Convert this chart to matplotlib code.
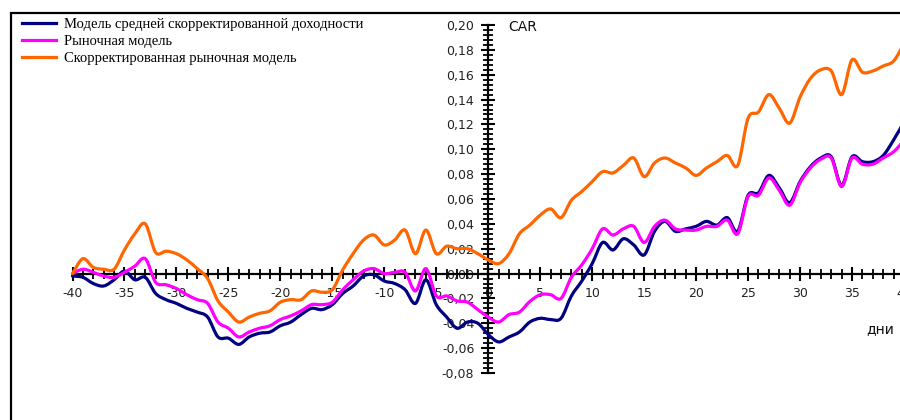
import numpy as np
import matplotlib
matplotlib.use("Agg")
import matplotlib.pyplot as plt
from matplotlib.ticker import MultipleLocator, FuncFormatter
from matplotlib.patches import Rectangle, PathPatch
from matplotlib.path import Path
from matplotlib.lines import Line2D

days = list(range(-40, 41))

mean_adjusted = [
    -0.002, -0.003, -0.008, -0.010, -0.005, 0.002, -0.005, -0.003, -0.016, -0.021,
    -0.024, -0.028, -0.031, -0.035, -0.051, -0.052, -0.057, -0.051, -0.048, -0.047,
    -0.042, -0.039, -0.033, -0.028, -0.029, -0.025, -0.016, -0.010, -0.002, -0.001,
    -0.006, -0.008, -0.013, -0.024, -0.005, -0.025, -0.035, -0.044, -0.039, -0.040,
    -0.049, -0.055, -0.051, -0.047, -0.039, -0.036, -0.037, -0.036, -0.018, -0.006,
    0.008, 0.025, 0.019, 0.028, 0.023, 0.015, 0.034, 0.042, 0.034, 0.036,
    0.038, 0.042, 0.039, 0.045, 0.034, 0.063, 0.065, 0.079, 0.069, 0.057,
    0.074, 0.086, 0.093, 0.094, 0.071, 0.094, 0.090, 0.090, 0.095, 0.1075,
    0.122]

market = [
    0.000, 0.0035, 0.001, -0.002, -0.003, 0.001, 0.006, 0.012, -0.007, -0.009,
    -0.012, -0.017, -0.021, -0.024, -0.039, -0.044, -0.051, -0.047, -0.044, -0.042,
    -0.037, -0.034, -0.030, -0.025, -0.025, -0.023, -0.013, -0.005, 0.002, 0.004,
    0.000, 0.001, 0.001, -0.014, 0.004, -0.018, -0.018, -0.022, -0.023, -0.029,
    -0.035, -0.039, -0.033, -0.031, -0.0225, -0.017, -0.017, -0.020, -0.003, 0.007,
    0.020, 0.036, 0.031, 0.036, 0.038, 0.025, 0.038, 0.043, 0.036, 0.035,
    0.035, 0.038, 0.038, 0.043, 0.032, 0.062, 0.063, 0.077, 0.067, 0.055,
    0.073, 0.085, 0.092, 0.093, 0.070, 0.093, 0.088, 0.088, 0.093, 0.098,
    0.107]

adjusted_market = [
    0.000, 0.012, 0.005, 0.0035, 0.0035, 0.019, 0.032, 0.040, 0.017, 0.018,
    0.016, 0.011, 0.004, -0.004, -0.022, -0.031, -0.039, -0.035, -0.032, -0.030,
    -0.023, -0.021, -0.021, -0.014, -0.015, -0.013, 0.003, 0.016, 0.027, 0.031,
    0.023, 0.027, 0.035, 0.016, 0.035, 0.016, 0.022, 0.020, 0.020, 0.016,
    0.011, 0.008, 0.016, 0.032, 0.039, 0.047, 0.052, 0.045, 0.059, 0.066,
    0.074, 0.082, 0.081, 0.087, 0.093, 0.078, 0.089, 0.093, 0.089, 0.085,
    0.079, 0.085, 0.090, 0.095, 0.087, 0.125, 0.130, 0.144, 0.133, 0.121,
    0.142, 0.157, 0.164, 0.163, 0.144, 0.172, 0.162, 0.163, 0.167, 0.171,
    0.185]

labels = ["Модель средней скорректированной доходности",
          "Рыночная модель",
          "Скорректированная рыночная модель"]
colors = ["#000080", "#FF00FF", "#FF6600"]


def smooth_path(x, y):
    """Smoothed line (Excel-style Bezier) through the data points."""
    pts = np.column_stack([np.asarray(x, float), np.asarray(y, float)])
    n = len(pts)
    verts = [pts[0]]
    codes = [Path.MOVETO]
    for i in range(n - 1):
        p0 = pts[i - 1] if i > 0 else pts[i]
        p1 = pts[i]
        p2 = pts[i + 1]
        p3 = pts[i + 2] if i + 2 < n else pts[i + 1]
        verts += [p1 + (p2 - p0) / 6.0, p2 - (p3 - p1) / 6.0, p2]
        codes += [Path.CURVE4] * 3
    return Path(np.array(verts), codes)


W, H = 900, 420
fig = plt.figure(figsize=(9, 4.2), dpi=100)
fig.patch.set_facecolor("white")

x_left = 72.5
x_right = 904.0
y_top = 25.0
y_bot = 373.0
ax = fig.add_axes([x_left / W, 1 - y_bot / H, (x_right - x_left) / W, (y_bot - y_top) / H])
ax.set_xlim(-40, 40)
ax.set_ylim(-0.08, 0.20)
ax.patch.set_alpha(0)

series = [mean_adjusted, market, adjusted_market]
handles = []
for vals, lab, col in zip(series, labels, colors):
    patch = PathPatch(smooth_path(days, vals), facecolor="none", edgecolor=col,
                      lw=2.3, zorder=3, joinstyle="round", capstyle="round",
                      transform=ax.transData, clip_on=False)
    ax.add_patch(patch)
    handles.append(Line2D([], [], color=col, lw=2.3, label=lab))

for s in ["top", "right"]:
    ax.spines[s].set_visible(False)
ax.spines["left"].set_position(("data", 0))
ax.spines["bottom"].set_position(("data", 0))
ax.spines["left"].set_linewidth(1.6)
ax.spines["bottom"].set_linewidth(1.6)

ax.xaxis.set_major_locator(MultipleLocator(5))
ax.xaxis.set_minor_locator(MultipleLocator(1))
ax.yaxis.set_major_locator(MultipleLocator(0.02))
ax.yaxis.set_minor_locator(MultipleLocator(0.004))

ax.xaxis.set_major_formatter(FuncFormatter(lambda v, p: f"{int(round(v))}"))


def yfmt(v, p):
    s = f"{v:.2f}".replace(".", ",")
    if s == "-0,00":
        s = "0,00"
    return s


ax.yaxis.set_major_formatter(FuncFormatter(yfmt))

ax.tick_params(which="major", direction="inout", length=10, width=1.5, labelsize=9,
               colors="black", pad=5)
ax.tick_params(which="minor", direction="inout", length=7, width=1.3)
for lbl in ax.get_xticklabels() + ax.get_yticklabels():
    lbl.set_fontfamily("DejaVu Sans")
    lbl.set_color("#222222")

fig.text(508 / W, 1 - 27 / H, "CAR", fontsize=10, ha="left", va="center",
         family="DejaVu Sans", color="#111111")
fig.text(866 / W, 1 - 329 / H, "дни", fontsize=10, ha="left", va="center",
         family="DejaVu Sans", color="#111111")

fig.legend(handles=handles, loc="upper left", bbox_to_anchor=(22 / W, 1 - 18 / H),
           frameon=False, prop={"family": "Liberation Serif", "size": 10.5},
           handlelength=2.3, handletextpad=0.55, labelspacing=0.25,
           borderpad=0, borderaxespad=0)

fig.add_artist(Rectangle((11 / W, -0.1), 1.2, (1 - 13 / H) + 0.1,
                         transform=fig.transFigure, fill=False, lw=1.6,
                         edgecolor="black"))

fig.savefig("out.png", dpi=100)
